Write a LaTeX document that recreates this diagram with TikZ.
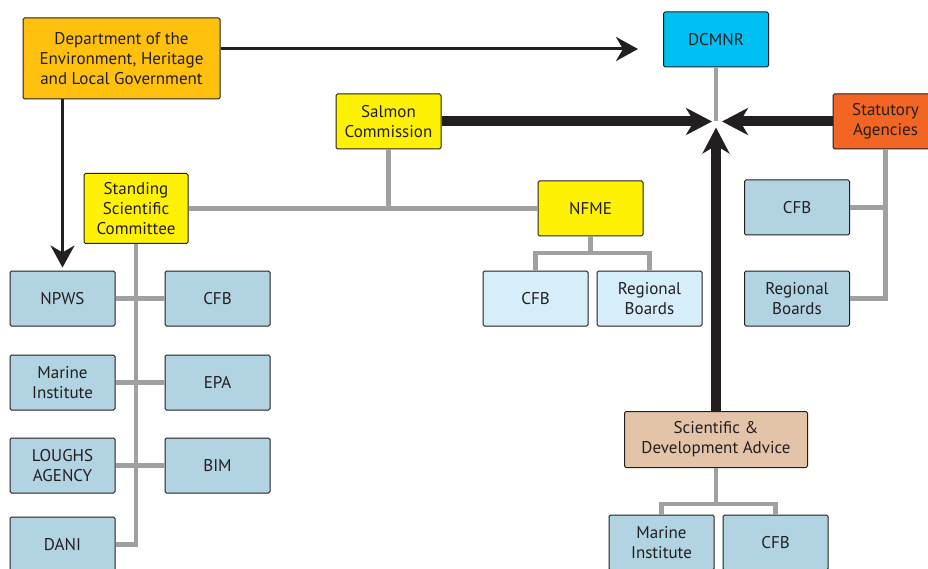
\documentclass[tikz,border=0pt]{standalone}
\usepackage{fontspec}
\setmainfont{PT Sans}
\usetikzlibrary{arrows.meta}
\definecolor{doeorange}{RGB}{255,193,14}
\definecolor{dcmnrblue}{RGB}{0,192,243}
\definecolor{scyellow}{RGB}{255,242,0}
\definecolor{statorange}{RGB}{242,101,34}
\definecolor{agencyblue}{RGB}{178,211,225}
\definecolor{nfmeblue}{RGB}{214,238,250}
\definecolor{advicetan}{RGB}{228,196,168}
\definecolor{linkgray}{RGB}{160,160,160}
\definecolor{inkdark}{RGB}{35,31,32}

\begin{document}
\begin{tikzpicture}[x=1pt,y=-1pt,
  box/.style={draw=inkdark,line width=1pt,rounded corners=1.5pt,minimum width=105pt,minimum height=55pt,
    align=center,inner sep=2pt,text=inkdark,font=\fontsize{17}{20}\selectfont},
  link/.style={draw=linkgray,line width=4.5pt},
  thinarrow/.style={draw=inkdark,line width=3pt,-{Stealth[length=22pt,width=24pt,inset=7pt]}},
  thickarrow/.style={draw=inkdark,line width=10pt,-{Stealth[length=26pt,width=27pt,inset=8pt]}}]
\useasboundingbox (0,0) rectangle (928,569);

% Top level
\node[box,fill=doeorange,minimum width=197pt,minimum height=81pt] (doe) at (121.5,58.5) {Department of the\\Environment, Heritage\\and Local Government};
\node[box,fill=dcmnrblue] (dcmnr) at (716,39.5) {DCMNR};
\coordinate (hub) at (716,121.5);

% Commissions and agencies
\node[box,fill=scyellow] (salmon) at (388.5,121.5) {Salmon\\Commission};
\node[box,fill=statorange] (stat) at (885.5,121.5) {Statutory\\Agencies};
\node[box,fill=scyellow,minimum width=104pt,minimum height=70pt] (ssc) at (136,208.5) {Standing\\Scientific\\Committee};
\node[box,fill=scyellow] (nfme) at (590.5,208.5) {NFME};

% NFME members
\node[box,fill=nfmeblue] (cfbn) at (535.5,298.5) {CFB};
\node[box,fill=nfmeblue] (rbn) at (649.5,298.5) {Regional\\Boards};

% Statutory agencies members
\node[box,fill=agencyblue] (cfbs) at (797,207.5) {CFB};
\node[box,fill=agencyblue] (rbs) at (797,298.5) {Regional\\Boards};

% Standing Scientific Committee members
\node[box,fill=agencyblue] (npws) at (62.5,298.5) {NPWS};
\node[box,fill=agencyblue] (cfba) at (217.5,298.5) {CFB};
\node[box,fill=agencyblue] (mia) at (62.5,382.5) {Marine\\Institute};
\node[box,fill=agencyblue] (epa) at (217.5,382.5) {EPA};
\node[box,fill=agencyblue] (loughs) at (62.5,465.5) {LOUGHS\\AGENCY};
\node[box,fill=agencyblue] (bim) at (217.5,465.5) {BIM};
\node[box,fill=agencyblue] (dani) at (62.5,544.5) {DANI};

% Scientific advice
\node[box,fill=advicetan,minimum width=183pt,minimum height=56pt] (sda) at (716,439.5) {Scientific \&\\Development Advice};
\node[box,fill=agencyblue] (mib) at (661.5,542.5) {Marine\\Institute};
\node[box,fill=agencyblue] (cfbb) at (775.5,542.5) {CFB};
\coordinate (nfmejoin) at (590.5,253);
\coordinate (sdajoin) at (716,504);

% Gray links
\draw[link] (ssc.east) -- (nfme.west);
\draw[link] (salmon.south) -- (salmon.south |- ssc.east);
\draw[link] (ssc.south) -- (ssc.south |- dani.east) -- (dani.east);
\draw[link] (npws.east) -- (cfba.west);
\draw[link] (mia.east) -- (epa.west);
\draw[link] (loughs.east) -- (bim.west);
\draw[link] (nfme.south) -- (nfmejoin);
\draw[link] (cfbn.north) |- (nfmejoin) -| (rbn.north);
\draw[link] (stat.south) -- (stat.south |- rbs.east) -- (rbs.east);
\draw[link] (cfbs.east) -- (cfbs.east -| stat.south);
\draw[link] (sda.south) -- (sdajoin);
\draw[link] (mib.north) |- (sdajoin) -| (cfbb.north);
\draw[link] (dcmnr.south) -- (hub);

% Arrows
\draw[thinarrow,shorten >=25pt] ([yshift=9.5pt]doe.east) -- ([yshift=9.5pt]doe.east -| dcmnr.west);
\draw[thinarrow] (doe.south -| npws.north) -- ([yshift=3pt]npws.north);
\draw[thickarrow,shorten >=4pt] (salmon.east) -- (hub);
\draw[thickarrow,shorten >=6pt] (stat.west) -- (hub);
\draw[thickarrow,shorten >=6pt] (sda.north) -- (hub);
\end{tikzpicture}
\end{document}
